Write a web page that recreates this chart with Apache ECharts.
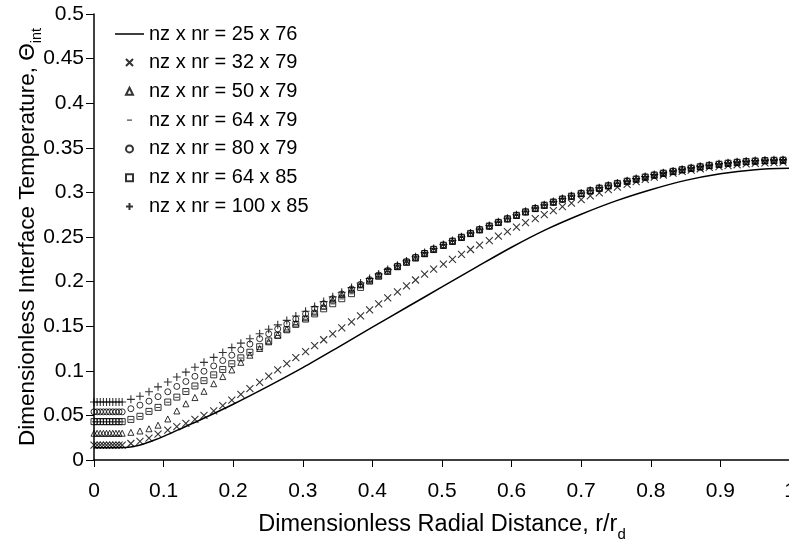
<!DOCTYPE html>
<html>
<head>
<meta charset="utf-8">
<script src="https://cdn.jsdelivr.net/npm/echarts@6/dist/echarts.min.js"></script>
<style>html,body{margin:0;padding:0;background:#fff;}#c{width:789px;height:540px;}</style>
</head>
<body>
<div id="c"></div>
<script>
// ---- data ----
const seriesNames = ['nz x nr = 25 x 76','nz x nr = 32 x 79','nz x nr = 50 x 79','nz x nr = 64 x 79','nz x nr = 80 x 79','nz x nr = 64 x 85','nz x nr = 100 x 85'];
const xTickLabels = ['0','0.1','0.2','0.3','0.4','0.5','0.6','0.7','0.8','0.9','1'];
const yTickLabels = ['0','0.05','0.1','0.15','0.2','0.25','0.3','0.35','0.4','0.45','0.5'];

// radial positions of the 25 x 76 curve
const rLine = [0,0.02,0.045,0.055,0.065,0.075,0.085,0.1,0.12,0.15,0.2,0.25,0.3,0.35,0.4,0.45,0.5,0.55,0.6,0.65,0.7,0.75,0.8,0.85,0.9,0.95,1.0];
const yLine = [0.0138,0.0138,0.0139,0.0148,0.0165,0.019,0.0218,0.0265,0.0335,0.044,0.0625,0.0825,0.1035,0.126,0.149,0.1715,0.194,0.2165,0.2385,0.2585,0.2755,0.2905,0.303,0.3135,0.321,0.3255,0.327];

// radial positions of the marker series
const rMark = [0,0.0045,0.009,0.0135,0.018,0.0225,0.027,0.0315,0.036,0.0405,
0.053,0.066,0.079,0.092,0.106,0.119,0.132,0.145,0.158,0.172,
0.185,0.198,0.211,0.224,0.238,0.251,0.264,0.277,0.290,0.304,
0.317,0.330,0.343,0.356,0.370,0.383,0.396,0.409,0.422,0.436,
0.449,0.462,0.475,0.488,0.502,0.515,0.528,0.541,0.554,0.568,
0.581,0.594,0.607,0.620,0.634,0.647,0.660,0.673,0.686,0.700,
0.713,0.726,0.739,0.752,0.766,0.779,0.792,0.805,0.818,0.832,
0.845,0.858,0.871,0.884,0.898,0.911,0.924,0.937,0.950,0.964,
0.977,0.990];

const y32x79 = [0.0168,0.0168,0.0168,0.0168,0.0168,0.0168,0.0168,0.0168,0.0168,0.0168,
0.0185,0.021,0.0245,0.029,0.0335,0.0375,0.041,0.0455,0.050,0.055,
0.061,0.067,0.0735,0.080,0.087,0.094,0.101,0.108,0.1147,0.1214,
0.1281,0.1348,0.1415,0.1482,0.1549,0.1616,0.1683,0.175,0.1817,0.1884,
0.1951,0.2018,0.2085,0.214,0.2195,0.225,0.2305,0.236,0.241,0.246,
0.251,0.256,0.261,0.266,0.2705,0.275,0.2795,0.284,0.288,0.292,
0.296,0.2995,0.303,0.306,0.309,0.312,0.3145,0.317,0.3195,0.3215,
0.3235,0.325,0.3265,0.328,0.329,0.330,0.331,0.332,0.3325,0.333,
0.3335,0.334];

const y50x79 = [0.030,0.030,0.030,0.030,0.030,0.030,0.030,0.030,0.030,0.030,
0.031,0.0325,0.035,0.039,0.046,0.055,0.063,0.070,0.077,0.0855,
0.0935,0.101,0.1095,0.1175,0.125,0.1325,0.140,0.147,0.1535,0.1595,
0.1658,0.1725,0.1795,0.1855,0.191,0.1963,0.2015,0.2066,0.2117,0.2168,
0.2217,0.2265,0.2312,0.2359,0.2405,0.245,0.2494,0.2538,0.258,0.2621,
0.2662,0.2702,0.2741,0.278,0.2818,0.2854,0.2889,0.2923,0.2955,0.2986,
0.3016,0.3045,0.3072,0.3098,0.3123,0.3147,0.317,0.3192,0.3213,0.3233,
0.3252,0.3269,0.3285,0.33,0.3313,0.3325,0.3335,0.3343,0.3349,0.3354,
0.3357,0.3359];

const y64x79 = [0.0428,0.0428,0.0428,0.0428,0.0428,0.0428,0.0428,0.0428,0.0428,0.0428,
0.0452,0.0488,0.0543,0.0588,0.0648,0.0703,0.0766,0.0828,0.0888,0.0953,
0.1013,0.1078,0.1143,0.1206,0.1268,0.1333,0.1396,0.1458,0.1518,0.1578,
0.1636,0.1693,0.175,0.1806,0.1863,0.1933,0.2003,0.2058,0.2113,0.2166,
0.2216,0.2265,0.2313,0.236,0.2406,0.2451,0.2495,0.2538,0.258,0.2621,
0.2662,0.2702,0.2741,0.278,0.2818,0.2855,0.289,0.2924,0.2956,0.2987,
0.3017,0.3046,0.3073,0.3099,0.3124,0.3148,0.3171,0.3193,0.3214,0.3234,
0.3253,0.327,0.3286,0.3301,0.3314,0.3326,0.3336,0.3344,0.335,0.3355,
0.3358,0.336];

const y80x79 = [0.054,0.054,0.054,0.054,0.054,0.054,0.054,0.054,0.054,0.054,
0.0575,0.0615,0.066,0.071,0.0765,0.0825,0.088,0.0938,0.0995,0.1055,
0.1115,0.1175,0.1235,0.130,0.136,0.1415,0.147,0.1525,0.158,0.1638,
0.1695,0.1752,0.1808,0.1862,0.1918,0.197,0.2022,0.2074,0.2125,0.2176,
0.2225,0.2273,0.232,0.2366,0.2412,0.2456,0.2499,0.2542,0.2584,0.2625,
0.2666,0.2706,0.2745,0.2784,0.2822,0.2858,0.2893,0.2927,0.2959,0.299,
0.302,0.3049,0.3076,0.3102,0.3127,0.3151,0.3174,0.3196,0.3217,0.3237,
0.3256,0.3273,0.3289,0.3304,0.3317,0.3329,0.3339,0.3347,0.3353,0.3358,
0.3361,0.3363];

const y64x85 = [0.043,0.043,0.043,0.043,0.043,0.043,0.043,0.043,0.043,0.043,
0.0455,0.049,0.0545,0.059,0.065,0.0705,0.0768,0.083,0.089,0.0955,
0.1015,0.108,0.1145,0.1208,0.127,0.1335,0.1398,0.146,0.152,0.158,
0.1638,0.1695,0.1752,0.1808,0.1865,0.1935,0.2005,0.206,0.2115,0.2168,
0.2218,0.2267,0.2315,0.2362,0.2408,0.2453,0.2497,0.254,0.2582,0.2623,
0.2664,0.2704,0.2743,0.2782,0.282,0.2857,0.2892,0.2926,0.2958,0.2989,
0.3019,0.3048,0.3075,0.3101,0.3126,0.315,0.3173,0.3195,0.3216,0.3236,
0.3255,0.3272,0.3288,0.3303,0.3316,0.3328,0.3338,0.3346,0.3352,0.3357,
0.336,0.3362];

const y100x85 = [0.065,0.065,0.065,0.065,0.065,0.065,0.065,0.065,0.065,0.065,
0.068,0.0715,0.0765,0.082,0.0875,0.093,0.0985,0.104,0.1095,0.115,
0.1205,0.126,0.131,0.136,0.1415,0.1465,0.1515,0.1565,0.1615,0.1668,
0.172,0.1776,0.1829,0.1881,0.1933,0.1984,0.2035,0.2085,0.2135,0.2184,
0.2232,0.2279,0.2325,0.2371,0.2416,0.246,0.2503,0.2546,0.2588,0.2629,
0.267,0.271,0.2749,0.2788,0.2826,0.2862,0.2897,0.2931,0.2963,0.2994,
0.3024,0.3053,0.308,0.3106,0.3131,0.3155,0.3178,0.32,0.3221,0.3241,
0.326,0.3277,0.3293,0.3308,0.3321,0.3333,0.3343,0.3351,0.3357,0.3362,
0.3365,0.3367];

// ---- build ----
const FONT = 'Liberation Sans';
const zip = (xs, ys) => xs.map((x, i) => [x, ys[i]]);
const hollow = {color: 'rgba(255,255,255,0)', borderColor: '#000', borderWidth: 1};
const stroke = {color: 'rgba(255,255,255,0)', borderColor: '#000', borderWidth: 1.1};
const DASH = 'path://M0,0M10,10M1.5,4.2L8.5,4.2L8.5,5.8L1.5,5.8Z';

const markerSeries = [
  {name: seriesNames[1], data: zip(rMark, y32x79), symbol: 'path://M0,0L10,10M10,0L0,10', symbolSize: 7, itemStyle: stroke},
  {name: seriesNames[2], data: zip(rMark, y50x79), symbol: 'triangle', symbolSize: 6, itemStyle: hollow},
  {name: seriesNames[3], data: zip(rMark, y64x79), symbol: DASH, symbolSize: 6, itemStyle: {color: '#000'}},
  {name: seriesNames[4], data: zip(rMark, y80x79), symbol: 'circle', symbolSize: 6, itemStyle: hollow},
  {name: seriesNames[5], data: zip(rMark, y64x85), symbol: 'rect', symbolSize: 6, itemStyle: hollow},
  {name: seriesNames[6], data: zip(rMark, y100x85), symbol: 'path://M5,0L5,10M0,5L10,5', symbolSize: 8, itemStyle: stroke}
].map(s => Object.assign({type: 'scatter', z: 3, emphasis: {disabled: true}}, s));

const legendText = {fontFamily: FONT, fontSize: 20, color: '#000', lineHeight: 20};

const option = {
  animation: false,
  backgroundColor: '#fff',
  textStyle: {fontFamily: FONT, color: '#000'},
  grid: {left: 94, top: 14, width: 696, height: 446, outerBoundsMode: 'none', containLabel: false},
  legend: [
    {
      orient: 'vertical', left: 115, top: 24, padding: 0,
      itemWidth: 29, itemHeight: 1.5, icon: 'rect',
      textStyle: legendText,
      data: [seriesNames[0]],
      selectedMode: false
    },
    {
      orient: 'vertical', left: 125, top: 52.5, padding: 0,
      itemWidth: 7, itemHeight: 7, itemGap: 8.8,
      textStyle: Object.assign({padding: [0, 0, 0, 11]}, legendText),
      data: seriesNames.slice(1),
      selectedMode: false
    }
  ],
  xAxis: {
    type: 'value', min: 0, max: 1, interval: 0.1,
    axisLine: {lineStyle: {color: '#000', width: 1.5}},
    axisTick: {inside: false, length: 7, lineStyle: {color: '#000', width: 1}},
    splitLine: {show: false},
    axisLabel: {margin: 21, fontFamily: FONT, fontSize: 21, color: '#000', showMinLabel: true, showMaxLabel: true,
      formatter: v => xTickLabels[Math.round(v * 10)]},
    name: '{a|Dimensionless Radial Distance, r/r}{b|d}',
    nameLocation: 'middle', nameGap: 49, nameMoveOverlap: false,
    nameTextStyle: {rich: {a: {fontFamily: FONT, fontSize: 23.5, color: '#000', lineHeight: 28, verticalAlign: 'bottom'},
                           b: {fontFamily: FONT, fontSize: 15, color: '#000', lineHeight: 28, verticalAlign: 'bottom', padding: [0,0,-5,0]}}}
  },
  yAxis: {
    type: 'value', min: 0, max: 0.5, interval: 0.05,
    axisLine: {lineStyle: {color: '#000', width: 1.5}},
    axisTick: {inside: false, length: 8, lineStyle: {color: '#000', width: 1}},
    splitLine: {show: false},
    axisLabel: {margin: 10, fontFamily: FONT, fontSize: 21, color: '#000',
      formatter: v => yTickLabels[Math.round(v * 20)]},
    name: '{a|Dimensionless Interface Temperature, Θ}{b|int}',
    nameLocation: 'middle', nameRotate: 90, nameGap: 55, nameMoveOverlap: false,
    nameTextStyle: {rich: {a: {fontFamily: FONT, fontSize: 22.5, color: '#000', lineHeight: 27, verticalAlign: 'bottom'},
                           b: {fontFamily: FONT, fontSize: 14.5, color: '#000', lineHeight: 27, verticalAlign: 'bottom', padding: [0,0,-5,0]}}}
  },
  series: [
    {name: seriesNames[0], type: 'line', data: zip(rLine, yLine), symbol: 'none', smooth: 0.3, z: 2,
     lineStyle: {color: '#000', width: 1.5}, itemStyle: {color: '#000'}, emphasis: {disabled: true}}
  ].concat(markerSeries)
};

const chart = echarts.init(document.getElementById('c'), null, {renderer: 'canvas'});
chart.setOption(option);
</script>
</body>
</html>
